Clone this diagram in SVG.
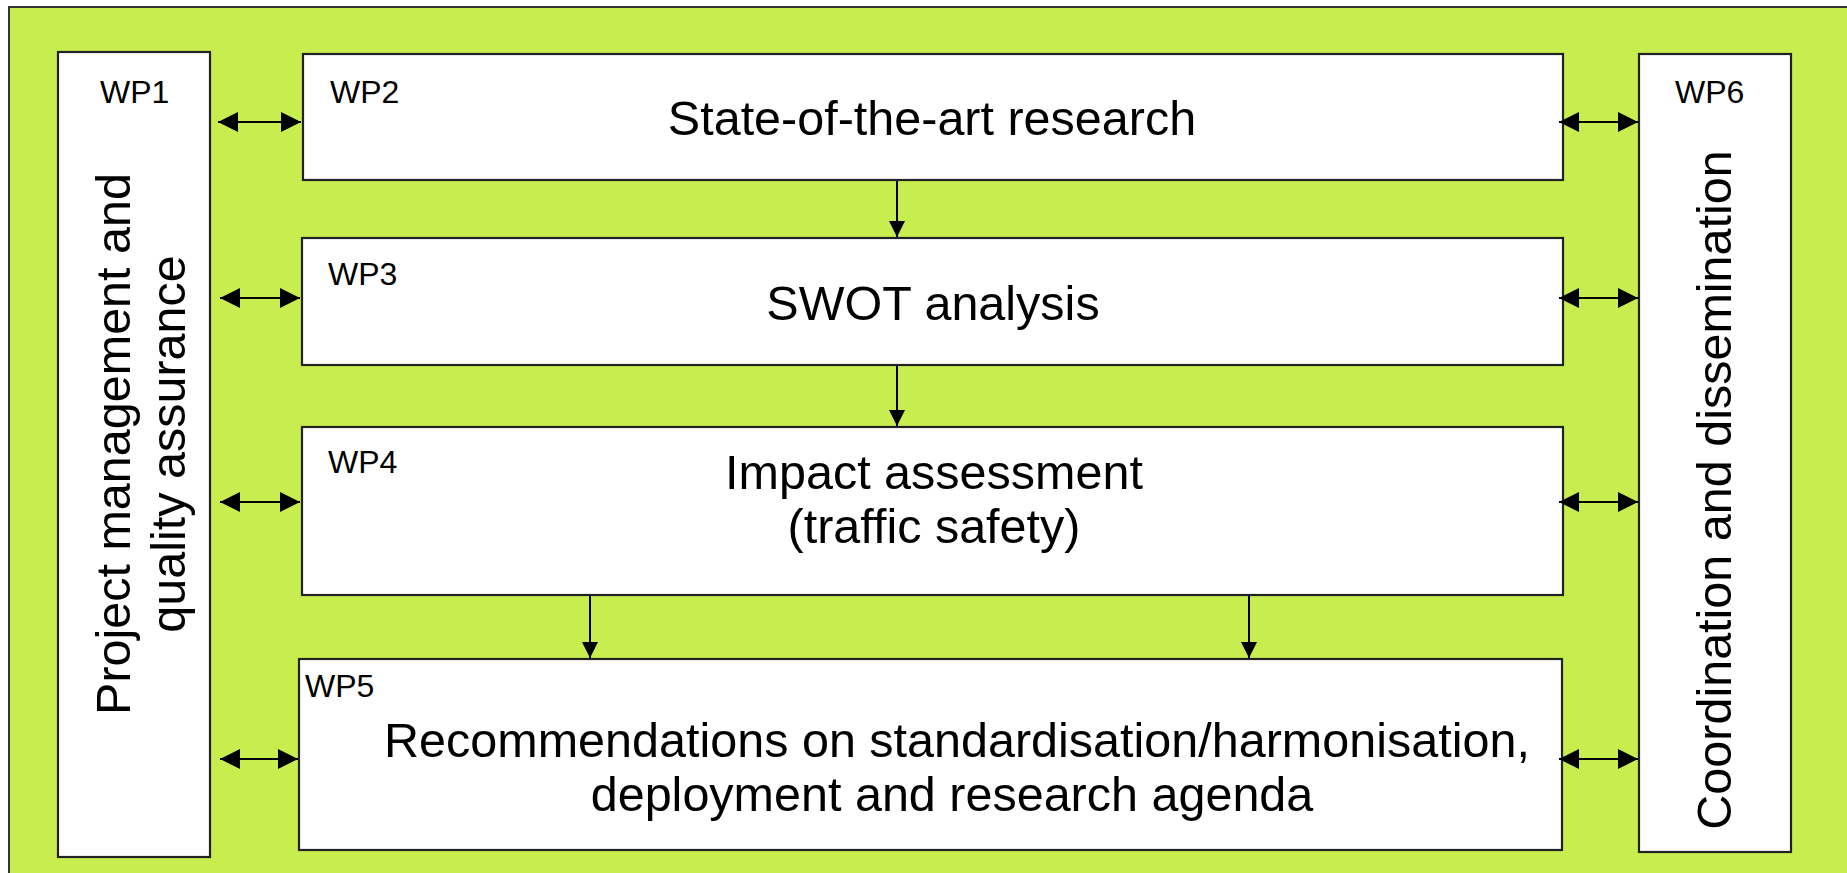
<svg xmlns="http://www.w3.org/2000/svg" width="1847" height="873" viewBox="0 0 1847 873">
<style>
.bg{fill:#c8ed4e;stroke:#333;stroke-width:2}
.box{fill:#fff;stroke:#222;stroke-width:2.2}
.t{font-family:"Liberation Sans",Arial,sans-serif;fill:#000}
.big{font-size:48.5px;text-anchor:middle}
.wp{font-size:32px}
.c{stroke:#000;stroke-width:2;fill:none}
</style>
<defs>
<marker id="ad" viewBox="0 0 10 10" refX="10" refY="5" markerWidth="18" markerHeight="16" markerUnits="userSpaceOnUse" orient="auto">
<path d="M0,0 L10,5 L0,10 z" fill="#000"/>
</marker>
<marker id="ah2" viewBox="0 0 10 10" refX="10" refY="5" markerWidth="20" markerHeight="20" markerUnits="userSpaceOnUse" orient="auto-start-reverse">
<path d="M0,0 L10,5 L0,10 z" fill="#000"/>
</marker>
</defs>
<rect width="1847" height="873" fill="#fff"/>
<rect class="bg" x="9" y="7" width="1850" height="880"/>

<g id="wp1">
<rect class="box" x="58" y="52" width="152" height="805"/>
<text class="t wp" x="100" y="103">WP1</text>
<text class="t big" transform="translate(130,444) rotate(-90)">Project management and<tspan x="0" dy="55">quality assurance</tspan></text>
</g>
<g id="wp2">
<rect class="box" x="303" y="54" width="1260" height="126"/>
<text class="t wp" x="330" y="103">WP2</text>
<text class="t big" x="932" y="135">State-of-the-art research</text>
</g>
<g id="wp3">
<rect class="box" x="302" y="238" width="1261" height="127"/>
<text class="t wp" x="328" y="285">WP3</text>
<text class="t big" x="933" y="320">SWOT analysis</text>
</g>
<g id="wp4">
<rect class="box" x="302" y="427" width="1261" height="168"/>
<text class="t wp" x="328" y="473">WP4</text>
<text class="t big" x="934" y="489">Impact assessment</text>
<text class="t big" x="934" y="543">(traffic safety)</text>
</g>
<g id="wp5">
<rect class="box" x="299" y="659" width="1263" height="191"/>
<text class="t wp" x="305" y="697">WP5</text>
<text class="t big" x="957" y="757">Recommendations on standardisation/harmonisation,</text>
<text class="t big" x="952" y="811">deployment and research agenda</text>
</g>
<g id="wp6">
<rect class="box" x="1639" y="54" width="152" height="798"/>
<text class="t wp" x="1675" y="103">WP6</text>
<text class="t big" transform="translate(1731,490) rotate(-90)">Coordination and dissemination</text>
</g>

<g id="connectors" class="c">
<line x1="218" y1="122" x2="301" y2="122" marker-start="url(#ah2)" marker-end="url(#ah2)"/>
<line x1="220" y1="298" x2="300" y2="298" marker-start="url(#ah2)" marker-end="url(#ah2)"/>
<line x1="220" y1="502" x2="300" y2="502" marker-start="url(#ah2)" marker-end="url(#ah2)"/>
<line x1="220" y1="759" x2="298" y2="759" marker-start="url(#ah2)" marker-end="url(#ah2)"/>
<line x1="1559" y1="122" x2="1638" y2="122" marker-start="url(#ah2)" marker-end="url(#ah2)"/>
<line x1="1559" y1="298" x2="1638" y2="298" marker-start="url(#ah2)" marker-end="url(#ah2)"/>
<line x1="1559" y1="502" x2="1638" y2="502" marker-start="url(#ah2)" marker-end="url(#ah2)"/>
<line x1="1559" y1="759" x2="1638" y2="759" marker-start="url(#ah2)" marker-end="url(#ah2)"/>
<line x1="897" y1="181" x2="897" y2="237" marker-end="url(#ad)"/>
<line x1="897" y1="366" x2="897" y2="426" marker-end="url(#ad)"/>
<line x1="590" y1="596" x2="590" y2="658" marker-end="url(#ad)"/>
<line x1="1249" y1="596" x2="1249" y2="658" marker-end="url(#ad)"/>
</g>
</svg>
